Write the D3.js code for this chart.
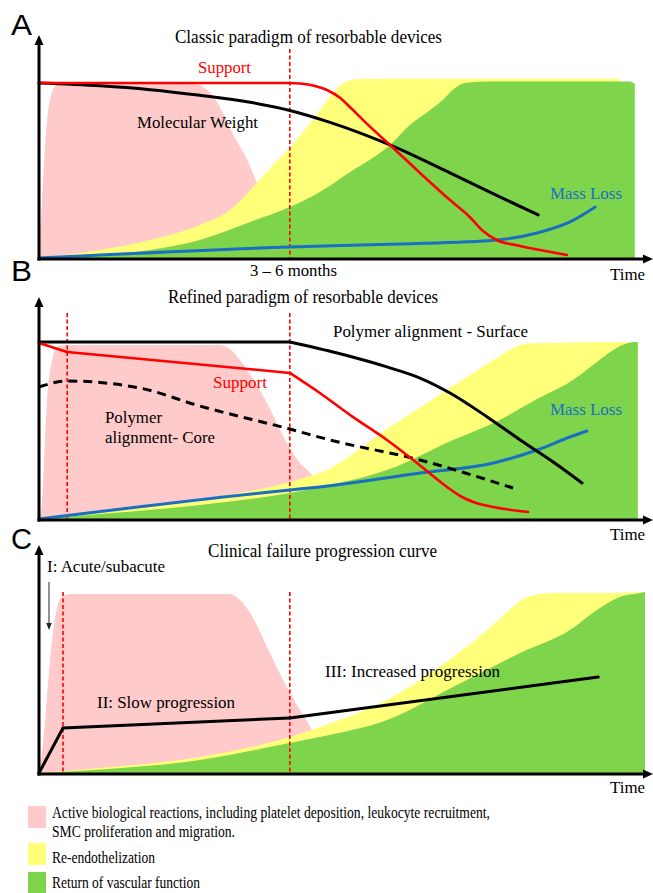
<!DOCTYPE html>
<html><head><meta charset="utf-8">
<script src="https://cdn.jsdelivr.net/npm/d3@7"></script>
<style>
body{margin:0;background:#fff}
svg{display:block}
</style>
</head><body>
<svg id="chart" width="653" height="893"></svg>
<script>
// ---------- DATA (time 0-100, level 0-100) ----------
const panelLetters = ["A", "B", "C"];
const panelTitles = ["Classic paradigm of resorbable devices", "Refined paradigm of resorbable devices", "Clinical failure progression curve"];
const axisLabel = "Time";
const timeMarkLabel = "3 \u2013 6 months";
const seriesLabels = ["Support", "Molecular Weight", "Mass Loss", "Polymer alignment - Surface", "Polymer", "alignment- Core"];
const phaseLabels = ["I: Acute/subacute", "II: Slow progression", "III: Increased progression"];
const legendLabels = ["Active biological reactions, including platelet deposition, leukocyte recruitment,", "SMC proliferation and migration.", "Re-endothelization", "Return of vascular function"];
const areaColors = ["#ffcaca", "#ffff7a", "#7ed44a"];

// Panel A
const markA = [41.8];
const pinkA = [[0,0],[0.5,33],[1.2,73],[1.8,90],[3,99],[4.3,99.5],[26,99.5],[27.7,97],[29.7,89],[32.3,71],[34.7,56],[36.3,43],[38.5,22],[40.5,0]];
const yellowA = [[0,0],[10.2,4.6],[18.5,10.3],[26.8,18.9],[31.8,27.4],[36.3,42.9],[39.3,54.3],[41.8,62.9],[45.2,77.1],[48.5,92],[50.7,100],[53.5,102.3],[60,102.5],[96.8,102.5]];
const greenA = [[0,0],[10.2,1.7],[18.5,4.6],[26.8,10.3],[35.2,20.6],[41.8,29.1],[46.8,37.7],[51.8,49],[58.5,64.6],[61.8,76],[65.2,84.6],[67.3,90.3],[69.3,97],[71,100],[75.2,100.8],[98.5,100.8],[99.3,99.4]];
const weightA = [[0,100],[10.2,98.4],[18.5,96.2],[26.8,93],[35.2,89],[41.8,84.3],[48.5,77.5],[58.5,64.6],[68.5,48.6],[76.8,34.9],[83.2,24.6]];
const supportA = [[0,100],[41.8,100],[43.5,99.7],[46,98.3],[48,96],[50.2,91.4],[51.8,86.3],[55.2,74.9],[58.5,64.6],[63.5,48.6],[68.5,33.1],[71.8,23.4],[74,15.4],[76.3,10.3],[80.2,6.9],[83.5,4.6],[88,1.7]];
const massA = [[0,0],[41.8,6.3],[60.2,8],[76.3,10.3],[83,14.3],[88.5,20.6],[92.7,29.1]];

// Panel B
const markB = [4.7, 41.8];
const pinkB = [[0,0],[0.5,9],[1.3,66],[2.2,90],[3,97.7],[4.3,98.9],[30.2,98.9],[31.3,97.7],[34.7,84.7],[38,65.9],[41.3,43.2],[43.5,31.8],[45.2,26.1],[47.7,13.6],[50.2,0]];
const yellowB = [[0,0],[13.5,5.1],[26.8,11.4],[35.2,15.9],[41.8,21],[45.2,24.4],[46.8,26.1],[58,51.1],[69,75.6],[76.8,92.6],[79,97.2],[81,99.4],[83.5,100],[99.8,100.6]];
const greenB = [[0,0],[10.2,2.8],[26.8,8],[41.8,14.8],[48.5,19.3],[58,27.8],[69,44.9],[76.8,56.3],[83,68.2],[89,79],[93,89.2],[95.7,96],[98.2,100],[99.8,100.6]];
const surfaceB = [[0,100.6],[41.8,100.6],[49.7,94.3],[58,86.4],[63.5,80.1],[68.5,71.6],[74.7,58],[80.2,44.9],[85.7,32.4],[90.5,20.5]];
const supportB = [[0,100],[4.7,94.9],[41.8,83],[46.8,71.6],[52.3,58],[58,44.9],[63,31.8],[68,18.2],[70.5,12.5],[72.5,9.5],[75.7,6.8],[81.5,4]];
const coreB = [[0,75],[4.7,78.4],[16.8,74.4],[26.8,64.2],[41.8,51.1],[48.5,44.9],[63.5,33.5],[79,17.6]];
const massB = [[0,0],[41.8,16.5],[46.8,18.2],[63.5,26.1],[75.7,31.8],[83,39.2],[88.5,46.6],[91.3,50]];

// Panel C
const markC = [4, 41.8];
const pinkC = [[0,0],[0.7,16.7],[1.8,61.1],[2.7,86.7],[3.8,97.8],[5.2,99.4],[31.8,99.4],[33.5,96.1],[35.2,88.9],[38,70],[41.3,47.8],[43.5,35],[45.2,25.6],[46.8,13.9],[48.5,0]];
const yellowC = [[0,0],[10.2,2.8],[26.8,8.9],[41.8,20],[46.8,25.6],[58,40.6],[69,64.4],[74.7,79.4],[79,92.2],[81.3,97.8],[85.7,100],[94,100],[101,100.6]];
const greenC = [[0,0],[10.2,1.9],[26.8,7.2],[41.8,16.7],[46.8,20],[58,29.4],[69,47.8],[80.2,66.7],[88.5,79.4],[93,90.6],[96.8,97.8],[100.2,100],[101,100.6]];
const failureC = [[0,0],[4,25],[41.8,30.6],[93.2,53.3]];

// ---------- DRAWING ----------
const svg = d3.select("#chart");
const RED = "#ff0000", BLUE = "#1a6fc2", BLACK = "#000";
const SERIF = "'Liberation Serif','Times New Roman',serif";
const SANS = "'Liberation Sans',Arial,sans-serif";

const defs = svg.append("defs");
defs.append("marker").attr("id","arrow").attr("viewBox","0 -5 10 10")
  .attr("markerUnits","userSpaceOnUse").attr("markerWidth",10).attr("markerHeight",10)
  .attr("refX",2).attr("refY",0).attr("orient","auto")
  .append("path").attr("d","M0,-4.5L10,0L0,4.5Z").attr("fill","#000");
defs.append("marker").attr("id","smallArrow").attr("viewBox","0 -5 10 10")
  .attr("markerUnits","userSpaceOnUse").attr("markerWidth",7).attr("markerHeight",7)
  .attr("refX",3).attr("refY",0).attr("orient","auto")
  .append("path").attr("d","M0,-4L10,0L0,4Z").attr("fill","#222");

const x = d3.scaleLinear().domain([0, 100]).range([39, 639]);
function makeY(base, top) { return d3.scaleLinear().domain([0, 100]).range([base, top]); }

function label(txt, px, py, size, w, color, family) {
  const t = svg.append("text").attr("x", px).attr("y", py)
    .style("font-size", size + "px").style("font-family", family || SERIF)
    .attr("fill", color || "#000").text(txt);
  if (w) t.attr("textLength", w).attr("lengthAdjust", "spacingAndGlyphs");
  return t;
}

function drawArea(g, y, data, color) {
  const area = d3.area().x(d => x(d[0])).y0(y(0)).y1(d => y(d[1])).curve(d3.curveMonotoneX);
  g.append("path").attr("d", area(data)).attr("fill", color);
}
// breaks: x-values where the line has a sharp corner
function drawLine(g, y, data, color, width, dash, breaks) {
  const line = d3.line().x(d => x(d[0])).y(d => y(d[1])).curve(d3.curveMonotoneX);
  const pieces = [];
  let cur = [];
  data.forEach(d => {
    cur.push(d);
    if (breaks && breaks.includes(d[0])) { pieces.push(cur); cur = [d]; }
  });
  if (cur.length > 1) pieces.push(cur);
  pieces.forEach(pc => {
    const p = g.append("path").attr("d", line(pc)).attr("fill", "none").attr("stroke", color)
      .attr("stroke-width", width).attr("stroke-linejoin", "round").attr("stroke-linecap", dash ? "butt" : "round");
    if (dash) p.attr("stroke-dasharray", dash);
  });
}
function drawMarks(g, y, marks, topLevel) {
  g.selectAll(null).data(marks).join("line")
    .attr("x1", d => x(d)).attr("x2", d => x(d))
    .attr("y1", y(topLevel)).attr("y2", y(0))
    .attr("stroke", RED).attr("stroke-width", 1.6).attr("stroke-dasharray", "4,2.5");
}
function drawAxes(g, y, yTip) {
  const xEnd = 645;
  const xa = x.copy().domain([0, x.invert(xEnd)]).range([39, xEnd]);
  const gx = g.append("g").attr("transform", `translate(0,${y(0) + 1})`)
    .call(d3.axisBottom(xa).tickValues([]).tickSizeOuter(0));
  gx.select(".domain").attr("d", `M37.5,0H${xEnd}`).attr("stroke", "#000")
    .attr("stroke-width", 3).attr("marker-end", "url(#arrow)");
  const ya = y.copy().domain([0, y.invert(yTip + 7)]).range([y(0), yTip + 7]);
  const gy = g.append("g").attr("transform", `translate(39,0)`)
    .call(d3.axisLeft(ya).tickValues([]).tickSizeOuter(0));
  gy.select(".domain").attr("d", `M0,${y(0) + 2.5}V${yTip + 7}`).attr("stroke", "#000")
    .attr("stroke-width", 3).attr("marker-end", "url(#arrow)");
}

// ----- Panel A -----
{
  const y = makeY(258, 83);
  const g = svg.append("g");
  drawArea(g, y, pinkA, areaColors[0]);
  drawArea(g, y, yellowA, areaColors[1]);
  drawArea(g, y, greenA, areaColors[2]);
  drawMarks(g, y, markA, 119.4);
  drawLine(g, y, massA, BLUE, 3);
  drawLine(g, y, weightA, BLACK, 3);
  drawLine(g, y, supportA, RED, 2.6);
  drawAxes(g, y, 36);
  label(panelLetters[0], 11, 35, 30, 21, "#000", SANS);
  label(panelTitles[0], 175, 43, 18, 267);
  label(seriesLabels[0], 198, 73, 17, 53, RED);
  label(seriesLabels[1], 137, 128, 17, 121);
  label(seriesLabels[2], 550, 199, 17, 72, BLUE);
  label(timeMarkLabel, 250, 276, 17, 87);
  label(axisLabel, 610, 280, 17, 35);
}

// ----- Panel B -----
{
  const y = makeY(519, 343);
  const g = svg.append("g");
  drawArea(g, y, pinkB, areaColors[0]);
  drawArea(g, y, yellowB, areaColors[1]);
  drawArea(g, y, greenB, areaColors[2]);
  drawMarks(g, y, markB, 117);
  drawLine(g, y, massB, BLUE, 3);
  drawLine(g, y, coreB, BLACK, 3, "9,6");
  drawLine(g, y, surfaceB, BLACK, 3, null, [41.8]);
  drawLine(g, y, supportB, RED, 2.6, null, [4.7, 41.8]);
  drawAxes(g, y, 298);
  label(panelLetters[1], 11, 281, 30, 21, "#000", SANS);
  label(panelTitles[1], 168, 303, 18, 270);
  label(seriesLabels[3], 333, 337, 17, 195);
  label(seriesLabels[0], 213, 388, 17, 54, RED);
  label(seriesLabels[4], 105, 423, 17, 57);
  label(seriesLabels[5], 105, 443, 17, 110);
  label(seriesLabels[2], 550, 415, 17, 72, BLUE);
  label(axisLabel, 610, 540, 17, 35);
}

// ----- Panel C -----
{
  const y = makeY(773, 593);
  const g = svg.append("g");
  drawArea(g, y, pinkC, areaColors[0]);
  drawArea(g, y, yellowC, areaColors[1]);
  drawArea(g, y, greenC, areaColors[2]);
  drawMarks(g, y, markC, 100.6);
  drawLine(g, y, failureC, BLACK, 3, null, [4, 41.8]);
  drawAxes(g, y, 546);
  label(panelLetters[2], 11, 549, 30, 21, "#000", SANS);
  label(panelTitles[2], 208, 557, 18, 229);
  label(phaseLabels[0], 47, 572, 17, 118);
  g.append("line").attr("x1", 49).attr("x2", 49).attr("y1", 582).attr("y2", 625)
    .attr("stroke", "#222").attr("stroke-width", 1).attr("marker-end", "url(#smallArrow)");
  label(phaseLabels[1], 97, 708, 17, 138);
  label(phaseLabels[2], 325, 677, 17, 175);
  label(axisLabel, 610, 793, 17, 35);
}

// ----- Legend -----
{
  const boxes = [{c: areaColors[0], y: 806, h: 22}, {c: areaColors[1], y: 843, h: 22}, {c: areaColors[2], y: 872, h: 21}];
  svg.selectAll(null).data(boxes).join("rect")
    .attr("x", 28).attr("y", d => d.y).attr("width", 18).attr("height", d => d.h).attr("fill", d => d.c);
  label(legendLabels[0], 52, 818, 17.5, 438);
  label(legendLabels[1], 52, 837, 17.5, 183);
  label(legendLabels[2], 52, 863, 17.5, 103);
  label(legendLabels[3], 52, 888, 17, 148);
}
</script>
</body></html>
